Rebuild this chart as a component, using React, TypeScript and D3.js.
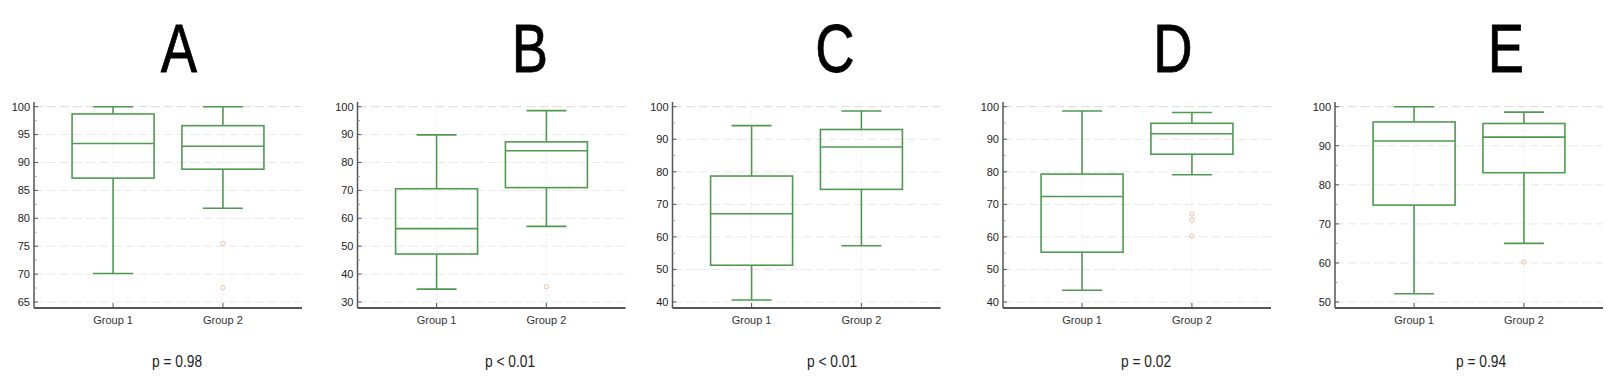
import * as d3 from 'd3';

// one entry per panel
const panelTitles = ['A', 'B', 'C', 'D', 'E'];
const groups = ['Group 1', 'Group 2'];
const pLabels = ['p = 0.98', 'p < 0.01', 'p < 0.01', 'p = 0.02', 'p = 0.94'];

const yTicks = [
  [65, 70, 75, 80, 85, 90, 95, 100],
  [30, 40, 50, 60, 70, 80, 90, 100],
  [40, 50, 60, 70, 80, 90, 100],
  [40, 50, 60, 70, 80, 90, 100],
  [50, 60, 70, 80, 90, 100],
];

// [low whisker, Q1, median, Q3, high whisker]
const group1Stats = [
  [70.1, 87.2, 93.4, 98.7, 100],
  [34.6, 47.2, 56.3, 70.6, 89.9],
  [40.6, 51.3, 67.1, 78.7, 94.2],
  [43.6, 55.3, 72.4, 79.3, 98.7],
  [52.1, 74.8, 91.2, 96.1, 100],
];
const group2Stats = [
  [81.8, 88.8, 92.9, 96.6, 100],
  [57.1, 71.0, 84.2, 87.4, 98.6],
  [57.3, 74.6, 87.6, 93.0, 98.7],
  [79.1, 85.4, 91.7, 94.9, 98.2],
  [65.0, 83.1, 92.2, 95.7, 98.6],
];
const group1Outliers: number[][] = [[], [], [], [], []];
const group2Outliers = [[75.5, 67.6], [35.5], [], [67.0, 65.2, 60.3], [60.2]];

// layout
const W = 1617;
const H = 385;
const panelLeft = [34, 357.5, 672.5, 1003, 1335];
const titleX = [179, 530, 835, 1173, 1506];
const pLabelX = [177, 510, 832, 1146, 1481];
const plotW = 268;
const plotTop = 106.7;
const plotBottom = 302;
const axisTop = 102;
const axisBottom = 308;
const boxW = 82;
const capW = 40;

const green = '#4f9a50';
const axisColor = '#555';
const gridColor = '#e8e8e8';

const Panel = ({ i }: { i: number }) => {
  const x0 = panelLeft[i];
  const ticks = yTicks[i];
  const y = d3
    .scaleLinear()
    .domain([ticks[0], ticks[ticks.length - 1]])
    .range([plotBottom, plotTop]);
  const x = d3.scalePoint<string>().domain(groups).range([0, plotW]).padding(0.72);
  const stats = [group1Stats[i], group2Stats[i]];
  const outliers = [group1Outliers[i], group2Outliers[i]];
  const step = ticks[1] - ticks[0];
  const minor = ticks.slice(0, -1).map((t) => t + step / 2);

  return (
    <g transform={`translate(${x0},0)`}>
      {/* grid */}
      {ticks.map((t) => (
        <line
          key={`g${t}`}
          x1={0}
          x2={plotW}
          y1={y(t)}
          y2={y(t)}
          stroke={t === 100 ? '#d8d8d8' : gridColor}
          strokeWidth={1}
          strokeDasharray="9,4"
        />
      ))}
      {groups.map((g) => (
        <line
          key={`v${g}`}
          x1={x(g)}
          x2={x(g)}
          y1={axisTop}
          y2={axisBottom}
          stroke="#efefef"
          strokeWidth={1}
          strokeDasharray="2,2"
        />
      ))}

      {/* boxes */}
      {groups.map((g, k) => {
        const cx = x(g) ?? 0;
        const [lo, q1, med, q3, hi] = stats[k];
        return (
          <g key={`b${g}`} stroke={green} strokeWidth={1.6} fill="none">
            <line x1={cx} x2={cx} y1={y(hi)} y2={y(q3)} />
            <line x1={cx} x2={cx} y1={y(q1)} y2={y(lo)} />
            <line x1={cx - capW / 2} x2={cx + capW / 2} y1={y(hi)} y2={y(hi)} />
            <line x1={cx - capW / 2} x2={cx + capW / 2} y1={y(lo)} y2={y(lo)} />
            <rect x={cx - boxW / 2} y={y(q3)} width={boxW} height={y(q1) - y(q3)} />
            <line x1={cx - boxW / 2} x2={cx + boxW / 2} y1={y(med)} y2={y(med)} />
            {outliers[k].map((v, j) => (
              <circle
                key={j}
                cx={cx}
                cy={y(v)}
                r={2.2}
                stroke="#e6a27c"
                strokeWidth={0.9}
                opacity={0.75}
              />
            ))}
          </g>
        );
      })}

      {/* y axis */}
      <line x1={0} x2={0} y1={axisTop} y2={axisBottom} stroke={axisColor} strokeWidth={1.5} />
      {ticks.map((t) => (
        <g key={`t${t}`}>
          <line x1={0} x2={4} y1={y(t)} y2={y(t)} stroke={axisColor} strokeWidth={1} />
          <text
            x={-4}
            y={y(t)}
            dy="0.35em"
            textAnchor="end"
            fontSize={11}
            fill="#222"
            fontFamily="Liberation Sans, Arial, sans-serif"
          >
            {t}
          </text>
        </g>
      ))}
      {minor.map((t) => (
        <line key={`m${t}`} x1={0} x2={2.5} y1={y(t)} y2={y(t)} stroke="#999" strokeWidth={1} />
      ))}

      {/* x axis */}
      <line x1={0} x2={plotW} y1={axisBottom} y2={axisBottom} stroke={axisColor} strokeWidth={2} />
      {groups.map((g) => (
        <g key={`x${g}`}>
          <line
            x1={x(g)}
            x2={x(g)}
            y1={axisBottom}
            y2={axisBottom - 5}
            stroke={axisColor}
            strokeWidth={1}
          />
          <text
            x={x(g)}
            y={324}
            textAnchor="middle"
            fontSize={11}
            fill="#333"
            fontFamily="Liberation Sans, Arial, sans-serif"
          >
            {g}
          </text>
        </g>
      ))}
    </g>
  );
};

const App = () => {
  return (
    <svg
      width={W}
      height={H}
      viewBox={`0 0 ${W} ${H}`}
      style={{ position: 'absolute', left: 0, top: 0, background: '#fff' }}
    >
      <rect width={W} height={H} fill="#fff" />
      {panelTitles.map((t, i) => (
        <text
          key={t}
          transform={`translate(${titleX[i]},72) scale(0.8,1)`}
          textAnchor="middle"
          fontSize={68}
          fill="#000"
          stroke="#000"
          strokeWidth={0.8}
          fontFamily="Liberation Sans, Arial, sans-serif"
        >
          {t}
        </text>
      ))}
      {panelTitles.map((t, i) => (
        <Panel key={`p${t}`} i={i} />
      ))}
      {pLabels.map((p, i) => (
        <text
          key={`pl${i}`}
          transform={`translate(${pLabelX[i]},367) scale(0.86,1)`}
          textAnchor="middle"
          fontSize={16}
          fill="#222"
          fontFamily="Liberation Sans, Arial, sans-serif"
        >
          {p}
        </text>
      ))}
    </svg>
  );
};

export default App;
